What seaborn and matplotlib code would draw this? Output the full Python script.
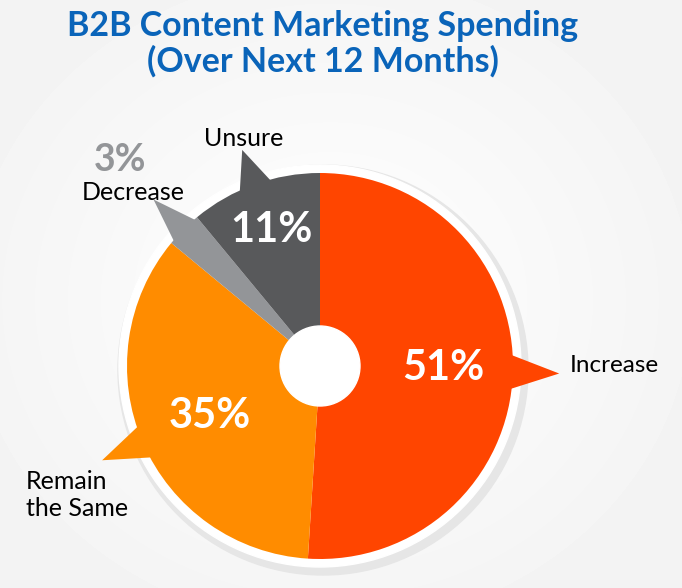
import numpy as np
import seaborn as sns
import matplotlib.pyplot as plt
from matplotlib.patches import Circle, Polygon

# data
labels = ["Increase", "Remain\nthe Same", "Decrease", "Unsure"]
shares = [51, 35, 3, 11]
colors = ["#ff4500", "#ff8c00", "#939598", "#58595b"]

sns.set_theme(style="white")
plt.rcParams['font.family'] = ['Lato', 'DejaVu Sans']

W, H = 682, 588
fig = plt.figure(figsize=(6.82, 5.88), dpi=100)
fig.patch.set_facecolor("#f7f7f7")

# soft background gradient
bg = fig.add_axes([0, 0, 1, 1])
yy, xx = np.mgrid[0:H, 0:W]
d = np.hypot((xx - 330) / 420, (yy - 300) / 380)
bg.imshow(1 - 0.05 * np.clip(d, 0, 1), cmap="gray", vmin=0, vmax=1,
          extent=[0, W, 0, H], aspect="auto")
bg.axis("off")

ax = fig.add_axes([0, 0, 1, 1])
ax.set_facecolor("none")

cx, cy, R = 320, 588 - 366, 193

# shadow + white ring
ax.add_patch(Circle((cx + 3, cy - 4), R + 12, color="#e6e6e6", zorder=1))
ax.add_patch(Circle((cx, cy), R + 8, color="white", zorder=2))

wedges, _ = ax.pie(shares, colors=colors, startangle=90, counterclock=False,
                   center=(cx, cy), radius=R,
                   wedgeprops=dict(linewidth=0, zorder=4))

# pointers at slice midpoints
tip_k = [1.24, 1.23, 1.22, 1.19]
half_w = [6, 6, 5.4, 6]
start = 90.0
for s, c, k, hw in zip(shares, colors, tip_k, half_w):
    ang = 360 * s / 100
    mid = start - ang / 2
    start -= ang
    t = np.radians(mid)
    a1, a2 = np.radians(mid - hw), np.radians(mid + hw)
    pts = [(cx + 0.96 * R * np.cos(a1), cy + 0.96 * R * np.sin(a1)),
           (cx + k * R * np.cos(t), cy + k * R * np.sin(t)),
           (cx + 0.96 * R * np.cos(a2), cy + 0.96 * R * np.sin(a2))]
    ax.add_patch(Polygon(pts, closed=True, color=c, lw=0, zorder=3))

# centre hole
ax.add_patch(Circle((cx, cy), 40, color="white", zorder=5))

# percentages inside
pct_pos = [(443, 368), (210, 416), None, (271, 230)]
for s, p in zip(shares, pct_pos):
    if p is None:
        continue
    ax.text(p[0], H - p[1], f"{s}%", color="white", fontsize=30,
            fontweight="bold", ha="center", va="center", zorder=6)

# outside labels
ax.text(570, H - 366, labels[0], fontsize=17.5, ha="left", va="center", color="black")
ax.text(26, H - 495, labels[1], fontsize=18, ha="left", va="center",
        color="black", linespacing=1.2)
ax.text(133, H - 192, labels[2], fontsize=18, ha="center", va="center", color="black")
ax.text(120, H - 160, f"{shares[2]}%", fontsize=27, fontweight="bold",
        ha="center", va="center", color="#939598")
ax.text(244, H - 139, labels[3], fontsize=18, ha="center", va="center", color="black")

fig.text(323 / W, 1 - 10 / H, "B2B Content Marketing Spending\n(Over Next 12 Months)",
         ha="center", va="top", fontsize=24.5, fontweight="bold",
         color="#0a64b9", linespacing=1.1)

ax.set_xlim(0, W)
ax.set_ylim(0, H)
ax.set_aspect("auto")
ax.axis("off")

fig.savefig("out.png", dpi=100, facecolor=fig.get_facecolor())
